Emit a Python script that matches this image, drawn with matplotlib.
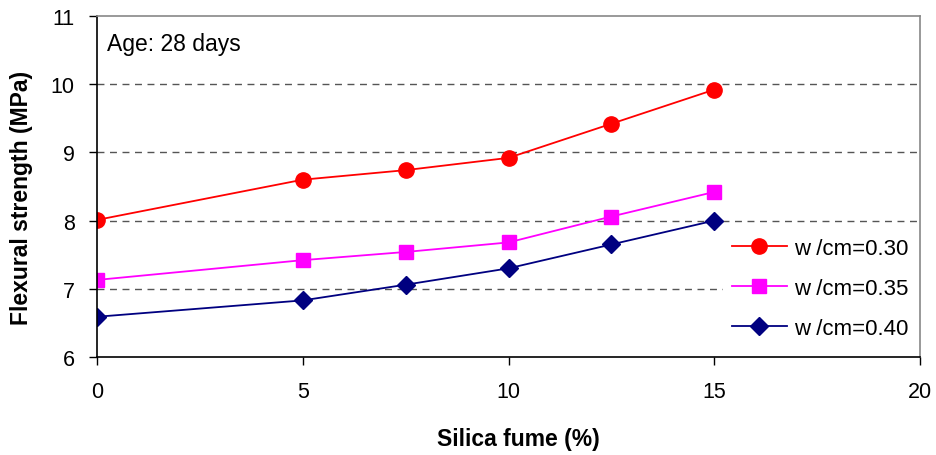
import matplotlib
matplotlib.use("Agg")
import matplotlib.pyplot as plt

silica = [0, 5, 7.5, 10, 12.5, 15]
wcm030 = [8.01, 8.60, 8.74, 8.92, 9.42, 9.92]
wcm035 = [7.13, 7.42, 7.54, 7.68, 8.06, 8.42]
wcm040 = [6.59, 6.83, 7.06, 7.30, 7.65, 8.00]
labels = ["w /cm=0.30", "w /cm=0.35", "w /cm=0.40"]

plt.rcParams['font.family'] = ['Liberation Sans', 'DejaVu Sans']

fig = plt.figure(figsize=(9.36, 4.56), dpi=100)
ax = fig.add_axes([97/936, 1 - 358/456, (920 - 97)/936, (358 - 17)/456])

ax.plot(silica, wcm030, color='#ff0000', marker='o', markersize=11, lw=1.3, label=labels[0])
ax.plot(silica, wcm035, color='#ff00ff', marker='s', markersize=10.5, lw=1.3, label=labels[1])
ax.plot(silica, wcm040, color='#000080', marker='D', markersize=9, lw=1.3, label=labels[2])

ax.set_xlim(0, 20)
ax.set_ylim(6, 11)
ax.set_xticks([0, 5, 10, 15, 20])
ax.set_yticks([6, 7, 8, 9, 10, 11])
for y in [7, 8, 9, 10]:
    ax.axhline(y, color='#555555', lw=1.0, ls=(0, (5, 4)), zorder=0)

ax.spines['top'].set_color('#888888')
ax.spines['right'].set_color('#888888')
ax.spines['left'].set_color('black')
ax.spines['bottom'].set_color('black')
for s in ax.spines.values():
    s.set_linewidth(1.2)
ax.tick_params(direction='out', length=6, width=1, labelsize=15.5)
ax.tick_params(axis='y', pad=10)
ax.tick_params(axis='x', pad=11)

ax.set_xlabel("Silica fume (%)", fontsize=16.5, fontweight='bold')
ax.xaxis.set_label_coords(0.512, -0.205)
ax.set_ylabel("Flexural strength (MPa)", fontsize=16.5, fontweight='bold')
ax.yaxis.set_label_coords(-0.078, 0.47)

ax.text(0.012, 0.918, "Age: 28 days", transform=ax.transAxes, fontsize=16.5, va='center', ha='left')

leg = ax.legend(loc='center', bbox_to_anchor=(0.8785, 0.202), frameon=True, fontsize=16,
                handlelength=2.5, labelspacing=0.85, handletextpad=0.3, borderpad=0.4,
                facecolor='white', edgecolor='none', framealpha=1.0, fancybox=False)
leg.set_zorder(5)

fig.savefig("out.png", dpi=100)
